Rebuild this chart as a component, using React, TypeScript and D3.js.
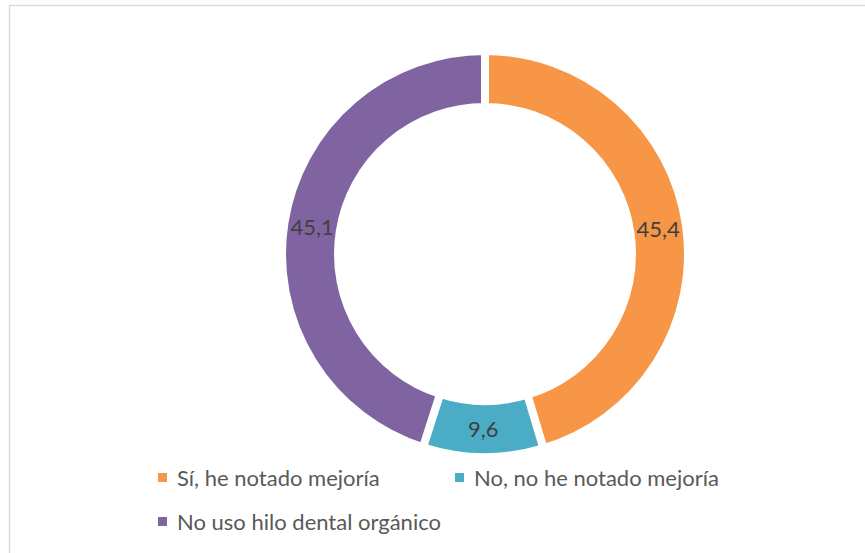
import React from "react";
import * as d3 from "d3";

const categories = ["Sí, he notado mejoría", "No, no he notado mejoría", "No uso hilo dental orgánico"];
const values = [45.4, 9.6, 45.1];
const labels = ["45,4", "9,6", "45,1"];
const colors = ["#F79646", "#4BACC6", "#8064A2"];

const W = 865;
const H = 553;
const cx = 485;
const cy = 254;
const outerR = 199;
const innerR = 151;
const gap = 8;
const FONT = "Lato, 'Open Sans', sans-serif";

export default function App() {
  const pie = d3.pie<number>().sort(null).value((d) => d);
  const arcs = pie(values);
  const arcGen = d3
    .arc<d3.PieArcDatum<number>>()
    .innerRadius(innerR - gap / 2)
    .outerRadius(outerR + gap / 2);
  const labelArc = d3
    .arc<d3.PieArcDatum<number>>()
    .innerRadius(innerR)
    .outerRadius(outerR);

  const legendPos = [
    { x: 162, y: 477 },
    { x: 459, y: 477 },
    { x: 162, y: 521 },
  ];

  return (
    <svg
      width={W}
      height={H}
      style={{ position: "absolute", left: 0, top: 0, background: "#fff" }}
    >
      <rect x={9.5} y={5.5} width={W + 10} height={H + 10} fill="#fff" stroke="#D9D9D9" strokeWidth={1.3} />
      <g transform={`translate(${cx},${cy})`}>
        {arcs.map((a, i) => (
          <path key={i} d={arcGen(a) || ""} fill={colors[i]} stroke="#fff" strokeWidth={gap} strokeLinejoin="miter" />
        ))}
        {arcs.map((a, i) => {
          const [x, y] = labelArc.centroid(a);
          return (
            <text
              key={i}
              x={x}
              y={y}
              textAnchor="middle"
              dominantBaseline="central"
              fontFamily={FONT}
              fontSize={22}
              fill="#404040"
            >
              {labels[i]}
            </text>
          );
        })}
      </g>
      {categories.map((c, i) => (
        <g key={i} transform={`translate(${legendPos[i].x},${legendPos[i].y})`}>
          <rect x={-4} y={-4} width={9} height={9} fill={colors[i]} />
          <text x={15} y={0} dominantBaseline="central" fontFamily={FONT} fontSize={22} fill="#595959">
            {c}
          </text>
        </g>
      ))}
    </svg>
  );
}
